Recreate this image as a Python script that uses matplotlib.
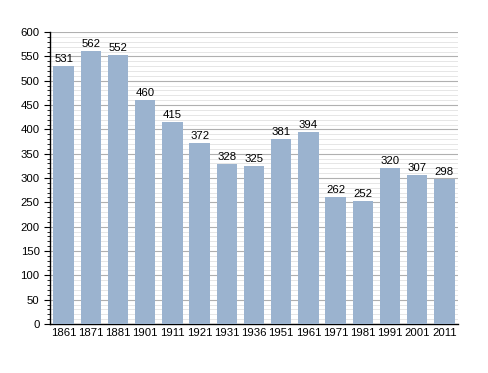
import matplotlib
matplotlib.use("Agg")
import matplotlib.pyplot as plt
from matplotlib.ticker import MultipleLocator

plt.rcParams["font.family"] = ["Liberation Sans", "DejaVu Sans"]

years = ["1861", "1871", "1881", "1901", "1911", "1921", "1931", "1936",
         "1951", "1961", "1971", "1981", "1991", "2001", "2011"]
population = [531, 562, 552, 460, 415, 372, 328, 325, 381, 394, 262, 252, 320, 307, 298]

fig = plt.figure(figsize=(4.88, 3.73), dpi=100)
ax = fig.add_axes([0.1025, 0.1314, 0.836, 0.7826])

x = list(range(len(years)))
ax.bar(x, population, width=0.75, color="#9bb3cf", zorder=3)
for xi, v in zip(x, population):
    ax.text(xi, v + 4, str(v), ha="center", va="bottom", fontsize=8.2, zorder=4)

ax.set_xlim(-0.5, len(years) - 0.5)
ax.set_ylim(0, 600)
ax.set_xticks(x)
ax.set_xticklabels(years, fontsize=8.2)
ax.yaxis.set_major_locator(MultipleLocator(50))
ax.yaxis.set_minor_locator(MultipleLocator(10))
ax.tick_params(axis="y", labelsize=8.2, length=4, width=0.8)
ax.tick_params(axis="y", which="minor", length=2, width=0.6)
ax.tick_params(axis="x", length=0, pad=3)
ax.grid(axis="y", which="major", color="#b0b0b0", linewidth=0.8, zorder=0)
ax.grid(axis="y", which="minor", color="#e2e2e2", linewidth=0.6, zorder=0)
for s in ["top", "right"]:
    ax.spines[s].set_visible(False)
ax.spines["left"].set_linewidth(1)
ax.spines["bottom"].set_linewidth(1)

fig.savefig("out.png", dpi=100)
